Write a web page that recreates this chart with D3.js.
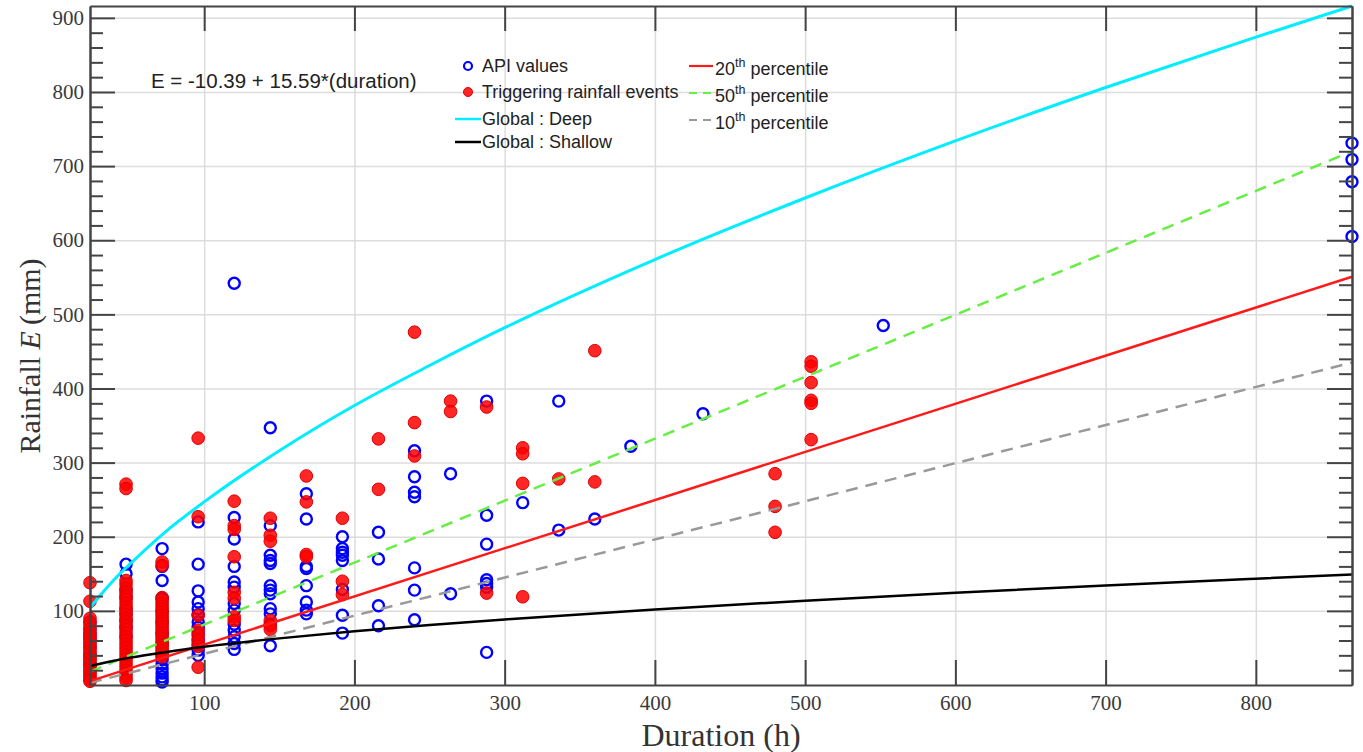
<!DOCTYPE html>
<html>
<head>
<meta charset="utf-8">
<script src="https://cdn.jsdelivr.net/npm/d3@7"></script>
<style>
  body { margin: 0; background: #fff; }
  svg { display: block; }
  .tick text { font-family: "Liberation Serif", serif; font-size: 21px; fill: #3a3a3a; }
  .legend text { font-family: "Liberation Sans", Arial, sans-serif; font-size: 18px; fill: #222; }
</style>
</head>
<body>
<svg width="1363" height="752"></svg>
<script>
// tick values
var xTicks = [100, 200, 300, 400, 500, 600, 700, 800];
var yTicks = [100, 200, 300, 400, 500, 600, 700, 800, 900];
var yMinor = [20, 40, 60, 80, 120, 140, 160, 180, 220, 240, 260, 280, 320, 340, 360, 380,
  420, 440, 460, 480, 520, 540, 560, 580, 620, 640, 660, 680, 720, 740, 760, 780, 820, 840, 860, 880];

// API values (blue rings), grouped by duration in hours
var apiDurations = [24, 48, 72, 96, 120, 144, 168, 192, 216, 240, 264, 288, 312, 336, 360, 384, 432, 552, 864];
var apiValues = [
  [85, 76, 70, 64, 52, 40, 28],
  [163, 150, 128, 118, 103, 96, 87, 78, 65],
  [184, 160, 141, 117, 100, 85, 70, 55, 40, 34, 28, 22, 16, 11, 7, 4],
  [220, 163, 127, 112, 103, 95, 85, 78, 70, 62, 55, 47, 40],
  [542, 226, 197, 160, 139, 132, 110, 101, 82, 74, 65, 56, 48],
  [347, 215, 175, 168, 164, 134, 128, 123, 103, 96, 82, 53],
  [258, 224, 160, 157, 134, 112, 101, 96],
  [200, 184, 179, 175, 168, 129, 94, 70],
  [206, 170, 107, 80],
  [316, 281, 260, 254, 158, 128, 88],
  [285, 123],
  [383, 229, 190, 142, 137, 132, 44],
  [246],
  [383, 209],
  [224],
  [322],
  [366],
  [485],
  [731, 709, 679, 605]
];

// triggering rainfall events (red dots)
var trigDurations = [24, 48, 72, 96, 120, 144, 168, 192, 216, 240, 264, 288, 312, 336, 360, 480, 504];
var trigValues = [
  [138, 113, 90, 85, 80, 75, 70, 66, 62, 58, 55, 50, 46, 42, 38, 35, 32, 28, 25, 22, 19, 16, 13, 10, 7, 5],
  [271, 265, 141, 136, 130, 125, 120, 115, 110, 105, 100, 95, 90, 85, 80, 75, 70, 65, 60, 55, 50, 45, 40, 35, 30, 25, 20, 15, 10, 6],
  [166, 161, 118, 114, 110, 106, 102, 98, 94, 90, 86, 82, 78, 74, 70, 66, 62, 58, 54, 50, 46, 42, 38],
  [333, 227, 94, 74, 67, 60, 52, 24],
  [248, 215, 210, 173, 125, 117, 92, 87],
  [225, 202, 194, 87, 80, 75],
  [282, 247, 176, 173],
  [225, 140, 122],
  [332, 264],
  [476, 354, 309],
  [383, 369],
  [375, 124],
  [320, 312, 272, 119],
  [278],
  [451, 274],
  [285, 241, 206],
  [436, 430, 408, 384, 380, 331]
];

// threshold curves
var curveDurations = [24, 30, 40, 50, 75, 100, 150, 200, 250, 300, 400, 500, 600, 700, 800, 864];
var globalDeep = [104, 119, 142, 162, 208, 247, 316, 377, 431, 482, 574, 657, 734, 806, 874, 916];
var globalShallow = [25.5, 28.4, 32.8, 36.6, 44.6, 51.5, 62.9, 72.4, 80.8, 88.5, 101.9, 113.8, 124.5, 134.3, 143.4, 149];
var lineEnds = [24, 864];
var p20 = [5.2, 550.8];
var p50 = [18, 720];
var p10 = [3, 435];

var svg = d3.select("svg"),
    plotL = 90, plotR = 1352, plotT = 6, plotB = 685;

var x = d3.scaleLinear().domain([24, 864]).range([plotL, plotR]),
    y = d3.scaleLinear().domain([0, 916]).range([plotB, plotT]);

var axisColor = "#444";

// grid
svg.append("g")
    .attr("transform", "translate(0," + plotB + ")")
    .call(d3.axisBottom(x).tickValues(xTicks).tickSize(-(plotB - plotT)).tickFormat(""))
    .call(function(g) { g.select(".domain").remove(); })
    .selectAll("line").attr("stroke", "#dcdcdc").attr("stroke-width", 1.5);
svg.append("g")
    .attr("transform", "translate(" + plotL + ",0)")
    .call(d3.axisLeft(y).tickValues(yTicks).tickSize(-(plotR - plotL)).tickFormat(""))
    .call(function(g) { g.select(".domain").remove(); })
    .selectAll("line").attr("stroke", "#dcdcdc").attr("stroke-width", 1.5);

// points: blue rings, then red dots on top
var apiPts = [], trigPts = [];
apiDurations.forEach(function(d, i) { apiValues[i].forEach(function(v) { apiPts.push([d, v]); }); });
trigDurations.forEach(function(d, i) { trigValues[i].forEach(function(v) { trigPts.push([d, v]); }); });

var plot = svg.append("g");

plot.selectAll("circle.api")
  .data(apiPts)
  .enter().append("circle")
    .attr("class", "api")
    .attr("cx", function(d) { return x(d[0]); })
    .attr("cy", function(d) { return y(d[1]); })
    .attr("r", 5.5)
    .attr("fill", "none")
    .attr("stroke", "#0000ff")
    .attr("stroke-width", 2.4);

plot.selectAll("circle.trig")
  .data(trigPts)
  .enter().append("circle")
    .attr("class", "trig")
    .attr("cx", function(d) { return x(d[0]); })
    .attr("cy", function(d) { return y(d[1]); })
    .attr("r", 6.3)
    .attr("fill", "#ff0000")
    .attr("fill-opacity", 0.85)
    .attr("stroke", "#e00000")
    .attr("stroke-width", 1);

// lines
var curve = d3.line()
    .x(function(d) { return x(d[0]); })
    .y(function(d) { return y(d[1]); })
    .curve(d3.curveMonotoneX);

function pairs(xs, ys) { return xs.map(function(d, i) { return [d, ys[i]]; }); }

plot.append("path").datum(pairs(lineEnds, p10))
    .attr("d", curve).attr("fill", "none")
    .attr("stroke", "#999").attr("stroke-width", 2.5).attr("stroke-dasharray", "12 8");
plot.append("path").datum(pairs(lineEnds, p50))
    .attr("d", curve).attr("fill", "none")
    .attr("stroke", "#66ee44").attr("stroke-width", 2.5).attr("stroke-dasharray", "12 8");
plot.append("path").datum(pairs(lineEnds, p20))
    .attr("d", curve).attr("fill", "none")
    .attr("stroke", "#ff1a1a").attr("stroke-width", 2.5);
plot.append("path").datum(pairs(curveDurations, globalShallow))
    .attr("d", curve).attr("fill", "none")
    .attr("stroke", "#000").attr("stroke-width", 2.5);
plot.append("path").datum(pairs(curveDurations, globalDeep))
    .attr("d", curve).attr("fill", "none")
    .attr("stroke", "#00eeff").attr("stroke-width", 3);

// axes with inward ticks on all four sides
function styleAxis(g) {
  g.select(".domain").attr("stroke", axisColor).attr("stroke-width", 2);
  g.selectAll(".tick line").attr("stroke", axisColor).attr("stroke-width", 2);
}
svg.append("g").attr("transform", "translate(0," + plotB + ")")
    .call(d3.axisBottom(x).tickValues(xTicks).tickSizeInner(-25).tickSizeOuter(0).tickPadding(10))
    .call(styleAxis);
svg.append("g").attr("transform", "translate(0," + plotT + ")")
    .call(d3.axisTop(x).tickValues(xTicks).tickSizeInner(-25).tickSizeOuter(0).tickFormat(""))
    .call(styleAxis);
svg.append("g").attr("transform", "translate(" + plotL + ",0)")
    .call(d3.axisLeft(y).tickValues(yTicks).tickSizeInner(-25).tickSizeOuter(0).tickPadding(6))
    .call(styleAxis);
svg.append("g").attr("transform", "translate(" + plotL + ",0)")
    .call(d3.axisLeft(y).tickValues(yMinor).tickSizeInner(-13).tickSizeOuter(0).tickFormat(""))
    .call(styleAxis);
svg.append("g").attr("transform", "translate(" + plotR + ",0)")
    .call(d3.axisRight(y).tickValues(yTicks).tickSizeInner(-25).tickSizeOuter(0).tickFormat(""))
    .call(styleAxis);
svg.append("g").attr("transform", "translate(" + plotR + ",0)")
    .call(d3.axisRight(y).tickValues(yMinor).tickSizeInner(-13).tickSizeOuter(0).tickFormat(""))
    .call(styleAxis);

// axis titles
svg.append("text")
    .attr("x", (plotL + plotR) / 2)
    .attr("y", 746)
    .attr("text-anchor", "middle")
    .attr("font-family", "Liberation Serif, serif")
    .attr("font-size", 32)
    .attr("fill", "#333")
    .text("Duration (h)");

var yt = svg.append("text")
    .attr("transform", "translate(40,356) rotate(-90)")
    .attr("text-anchor", "middle")
    .attr("font-family", "Liberation Serif, serif")
    .attr("font-size", 30)
    .attr("fill", "#333");
yt.append("tspan").text("Rainfall ");
yt.append("tspan").attr("font-style", "italic").text("E");
yt.append("tspan").text("\u2009(mm)");

// equation
svg.append("text")
    .attr("x", 151).attr("y", 88)
    .attr("font-family", "Liberation Sans, Arial, sans-serif")
    .attr("font-size", 20.5)
    .attr("fill", "#222")
    .text("E = -10.39 + 15.59*(duration)");

// legend
var leg = svg.append("g").attr("class", "legend");
var tx = 482;
leg.append("circle").attr("cx", 468).attr("cy", 66).attr("r", 4)
    .attr("fill", "none").attr("stroke", "#0000ff").attr("stroke-width", 2.2);
leg.append("text").attr("x", tx).attr("y", 66).attr("dy", "0.35em").text("API values");
leg.append("circle").attr("cx", 468).attr("cy", 92).attr("r", 4.5)
    .attr("fill", "#ff0000").attr("fill-opacity", 0.85).attr("stroke", "#e00000");
leg.append("text").attr("x", tx).attr("y", 92).attr("dy", "0.35em").text("Triggering rainfall events");
leg.append("line").attr("x1", 455).attr("x2", 481).attr("y1", 119).attr("y2", 119)
    .attr("stroke", "#00eeff").attr("stroke-width", 2.5);
leg.append("text").attr("x", tx).attr("y", 119).attr("dy", "0.35em").text("Global : Deep");
leg.append("line").attr("x1", 455).attr("x2", 481).attr("y1", 142).attr("y2", 142)
    .attr("stroke", "#000").attr("stroke-width", 2.5);
leg.append("text").attr("x", tx).attr("y", 142).attr("dy", "0.35em").text("Global : Shallow");

var pLeg = [["20", "#ff1a1a", null, 66], ["50", "#66ee44", "8 6", 93], ["10", "#999", "8 6", 120]];
pLeg.forEach(function(p) {
  leg.append("line").attr("x1", 689).attr("x2", 713).attr("y1", p[3]).attr("y2", p[3])
      .attr("stroke", p[1]).attr("stroke-width", 2.2).attr("stroke-dasharray", p[2]);
  var t = leg.append("text").attr("x", 715).attr("y", p[3] + 3).attr("dy", "0.35em");
  t.append("tspan").text(p[0]);
  t.append("tspan").attr("font-size", 12.5).attr("dy", "-0.7em").text("th");
  t.append("tspan").attr("dy", "0.45em").text(" percentile");
});
</script>
</body>
</html>
